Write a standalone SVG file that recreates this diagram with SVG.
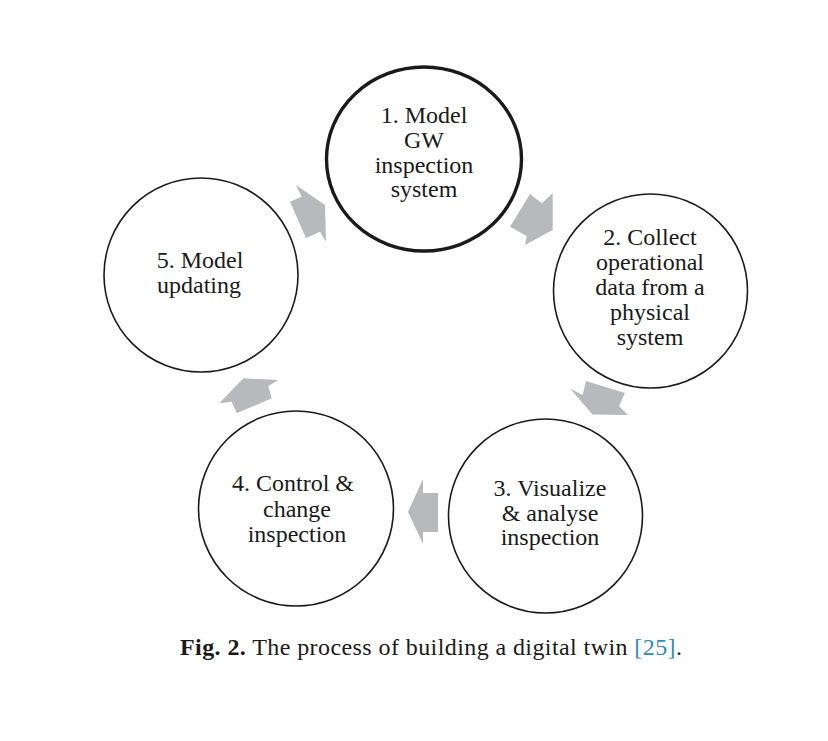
<svg xmlns="http://www.w3.org/2000/svg" width="828" height="741" viewBox="0 0 828 741">
<style>
.node{fill:#fff;stroke:#1a1a1a;stroke-width:1.6}
.bold{stroke-width:3.4}
.arr{fill:#b8b9bc}
</style>
<rect width="828" height="741" fill="#fff"/>
<g id="connectors">
<polygon class="arr" points="325,205 296,185 301.7,196.7 290,201.7 306,238.3 320,231.7 326,241.7"/>
<polygon class="arr" points="552.7,230 552.7,193.3 541.7,203.3 530,194 510,226.7 526.7,236 525,245"/>
<polygon class="arr" points="592.5,414.5 628,415 619,406 625,393 586,381 582.5,395 570,388.5"/>
<polygon class="arr" points="408,512 423,479 423,493 438,493 438,532 423,532 423,544"/>
<polygon class="arr" points="243.3,378.3 278.3,380 268.3,386 271.7,398.3 236.7,413.3 231.7,401.7 219.3,403.3"/>
</g>
<g font-family="'Liberation Serif', 'Times New Roman', serif" font-size="24" fill="#1a1a1a" text-anchor="middle">
<g id="node1">
<ellipse class="node bold" cx="424" cy="159" rx="97.5" ry="92"/>
<text x="424" y="123">1. Model</text>
<text x="424" y="148">GW</text>
<text x="424" y="172.5">inspection</text>
<text x="424" y="197">system</text>
</g>
<g id="node2">
<circle class="node" cx="650.5" cy="291" r="97"/>
<text x="650" y="245">2. Collect</text>
<text x="650" y="270">operational</text>
<text x="650" y="295">data from a</text>
<text x="650" y="320">physical</text>
<text x="650" y="345">system</text>
</g>
<g id="node3">
<circle class="node" cx="545.5" cy="516" r="97"/>
<text x="550" y="495.5">3. Visualize</text>
<text x="550" y="520.5">&amp; analyse</text>
<text x="550" y="545">inspection</text>
</g>
<g id="node4">
<circle class="node" cx="296" cy="508.5" r="97.5"/>
<text x="293" y="491">4. Control &amp;</text>
<text x="297" y="517">change</text>
<text x="297" y="542">inspection</text>
</g>
<g id="node5">
<circle class="node" cx="201" cy="275" r="97"/>
<text x="200" y="268">5. Model</text>
<text x="199" y="293">updating</text>
</g>
</g>
<text x="180" y="655" font-family="'Liberation Serif', 'Times New Roman', serif" font-size="24" fill="#1a1a1a" textLength="502" lengthAdjust="spacing"><tspan font-weight="bold">Fig. 2.</tspan> The process of building a digital twin <tspan fill="#2e8bc0">[25]</tspan>.</text>
</svg>
